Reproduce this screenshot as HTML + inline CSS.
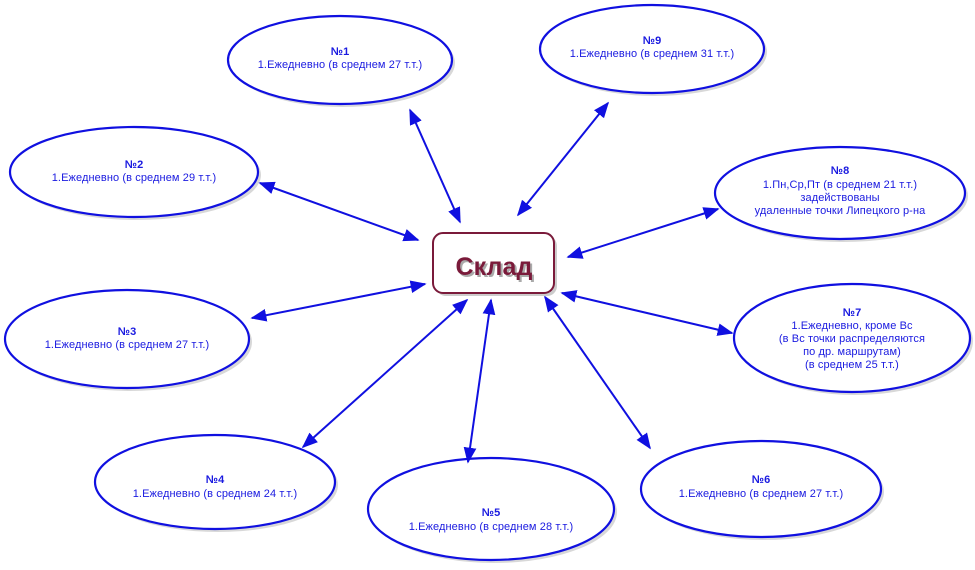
<!DOCTYPE html>
<html><head><meta charset="utf-8"><style>
html,body{margin:0;padding:0;background:#fff;}
svg{display:block;}
text{font-family:"Liberation Sans","DejaVu Sans",sans-serif;fill:#1a1ae0;font-size:11px;text-anchor:middle;letter-spacing:0.1px;}
.t{font-weight:bold;font-size:11px;}
</style></head><body>
<svg width="975" height="570" viewBox="0 0 975 570" xmlns="http://www.w3.org/2000/svg">
<defs>
<marker id="a" viewBox="0 0 10 10" refX="9" refY="5" markerWidth="8" markerHeight="8" orient="auto-start-reverse"><path d="M0,1 L10,5 L0,9 Z" fill="#1010e0"/></marker>
</defs>
<g fill="#d8d8d8" stroke="none">
<ellipse cx="343" cy="63" rx="112" ry="44"/>
<ellipse cx="655" cy="52" rx="112" ry="44"/>
<ellipse cx="137" cy="175" rx="124" ry="45"/>
<ellipse cx="843" cy="196" rx="125" ry="46"/>
<ellipse cx="130" cy="342" rx="122" ry="49"/>
<ellipse cx="855" cy="341" rx="118" ry="54"/>
<ellipse cx="218" cy="485" rx="120" ry="47"/>
<ellipse cx="494" cy="512" rx="123" ry="51"/>
<ellipse cx="764" cy="492" rx="120" ry="48"/>
</g>
<g fill="#fff" stroke="#1010e0" stroke-width="2.2">
<ellipse cx="340" cy="60" rx="112" ry="44"/>
<ellipse cx="652" cy="49" rx="112" ry="44"/>
<ellipse cx="134" cy="172" rx="124" ry="45"/>
<ellipse cx="840" cy="193" rx="125" ry="46"/>
<ellipse cx="127" cy="339" rx="122" ry="49"/>
<ellipse cx="852" cy="338" rx="118" ry="54"/>
<ellipse cx="215" cy="482" rx="120" ry="47"/>
<ellipse cx="491" cy="509" rx="123" ry="51"/>
<ellipse cx="761" cy="489" rx="120" ry="48"/>
</g>
<g stroke="#1010e0" stroke-width="2" marker-start="url(#a)" marker-end="url(#a)">
<line x1="410" y1="110" x2="460" y2="222"/>
<line x1="608" y1="103" x2="518" y2="215"/>
<line x1="260" y1="183" x2="418" y2="240"/>
<line x1="718" y1="209" x2="568" y2="257"/>
<line x1="252" y1="318" x2="425" y2="284"/>
<line x1="732" y1="333" x2="562" y2="293"/>
<line x1="303" y1="447" x2="467" y2="300"/>
<line x1="468" y1="462" x2="491" y2="300"/>
<line x1="650" y1="448" x2="545" y2="297"/>
</g>
<rect x="436" y="236" width="121" height="60" rx="10" fill="#ccc"/>
<rect x="433" y="233" width="121" height="60" rx="10" fill="#fff" stroke="#7a1a3a" stroke-width="2"/>
<text x="496" y="277" style="font-size:25px;font-weight:bold;fill:#aaa;">Склад</text>
<text x="494" y="275" style="font-size:25px;font-weight:bold;fill:#7a1a3a;">Склад</text>

<text class="t" x="340" y="55">№1</text><text x="340" y="68">1.Ежедневно (в среднем 27 т.т.)</text>
<text class="t" x="652" y="44">№9</text><text x="652" y="57">1.Ежедневно (в среднем 31 т.т.)</text>
<text class="t" x="134" y="168">№2</text><text x="134" y="181">1.Ежедневно (в среднем 29 т.т.)</text>
<text class="t" x="840" y="174">№8</text><text x="840" y="188">1.Пн,Ср,Пт (в среднем 21 т.т.)</text><text x="840" y="201">задействованы</text><text x="840" y="214">удаленные точки Липецкого р-на</text>
<text class="t" x="127" y="335">№3</text><text x="127" y="348">1.Ежедневно  (в среднем 27 т.т.)</text>
<text class="t" x="852" y="316">№7</text><text x="852" y="329">1.Ежедневно, кроме Вс</text><text x="852" y="342">(в Вс точки распределяются</text><text x="852" y="355">по др. маршрутам)</text><text x="852" y="368">(в среднем 25 т.т.)</text>
<text class="t" x="215" y="483">№4</text><text x="215" y="497">1.Ежедневно  (в среднем 24 т.т.)</text>
<text class="t" x="491" y="516">№5</text><text x="491" y="530">1.Ежедневно (в среднем 28 т.т.)</text>
<text class="t" x="761" y="483">№6</text><text x="761" y="497">1.Ежедневно (в среднем 27 т.т.)</text>
</svg>
</body></html>
